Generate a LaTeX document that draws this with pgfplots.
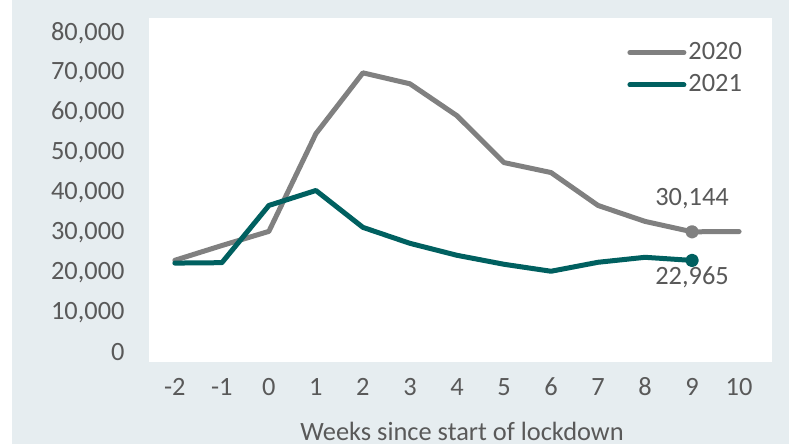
\documentclass[border=0pt]{standalone}
\usepackage{pgfplots}
\pgfplotsset{compat=1.18}
\usepackage{fontspec}
\setmainfont[Numbers=Lining]{Carlito}
\definecolor{bgc}{RGB}{230,237,240}
\definecolor{txt}{RGB}{89,89,89}
\definecolor{g20}{RGB}{128,128,128}
\definecolor{t21}{RGB}{0,96,96}
\begin{document}
\fontsize{13.2}{15}\selectfont
\begin{tikzpicture}[x=1pt,y=1pt]
\useasboundingbox (0,0) rectangle (394.5,222);
\fill[white] (0,0) rectangle (394.5,222);
\fill[bgc] (6,0) rectangle (394.5,222);
\begin{axis}[
  at={(74.5pt,41pt)}, anchor=south west,
  scale only axis, width=311.5pt, height=172pt,
  xmin=-2.55, xmax=10.70, ymin=-2500, ymax=83750,
  axis background/.style={fill=white},
  axis x line*=bottom, axis y line*=left,
  axis line style={draw=none},
  major tick length=0pt,
  xtick={-2,...,10}, ytick={0,10000,...,80000},
  scaled y ticks=false,
  /pgf/number format/assume math mode=true,
  ticklabel style={font=\fontsize{13.2}{15}\selectfont, text=txt},
  yticklabel style={xshift=-7.6pt, /pgf/number format/fixed, /pgf/number format/precision=0, /pgf/number format/1000 sep={,}},
  xticklabel style={yshift=-3.9pt, text height=8.4pt, text depth=0pt},
  legend style={draw=none, fill=none, inner sep=0pt, at={(0.7673,0.937)}, anchor=north west,
    nodes={inner sep=1pt, text=txt, font=\fontsize{13.2}{15}\selectfont}, row sep=3.6pt},
  legend cell align=left,
  legend image code/.code={\draw[#1] (0pt,0pt) -- (27pt,0pt);},
  every axis plot/.append style={line width=2.5pt, line cap=round, line join=round},
]
\addplot[g20] coordinates {(-2,23000) (-1,26700) (0,30250) (1,54750) (2,70000) (3,67250) (4,59250) (5,47500) (6,45000) (7,36750) (8,32750) (9,30144) (10,30200)};
\addlegendentry{2020}
\addplot[t21] coordinates {(-2,22300) (-1,22400) (0,36750) (1,40500) (2,31250) (3,27250) (4,24250) (5,22000) (6,20250) (7,22500) (8,23750) (9,22965)};
\addlegendentry{2021}
\addplot[g20, only marks, mark=*, mark size=2.1pt, forget plot] coordinates {(9,30144)};
\addplot[t21, only marks, mark=*, mark size=2.1pt, forget plot] coordinates {(9,22965)};
\node[text=txt, font=\fontsize{13.2}{15}\selectfont] at (axis cs:9,30144) [yshift=16.8pt] {30,144};
\node[text=txt, font=\fontsize{13.2}{15}\selectfont] at (axis cs:9,22965) [yshift=-8.5pt] {22,965};
\end{axis}
\node[text=txt] at (231,6.5) {Weeks since start of lockdown};
\end{tikzpicture}
\end{document}
